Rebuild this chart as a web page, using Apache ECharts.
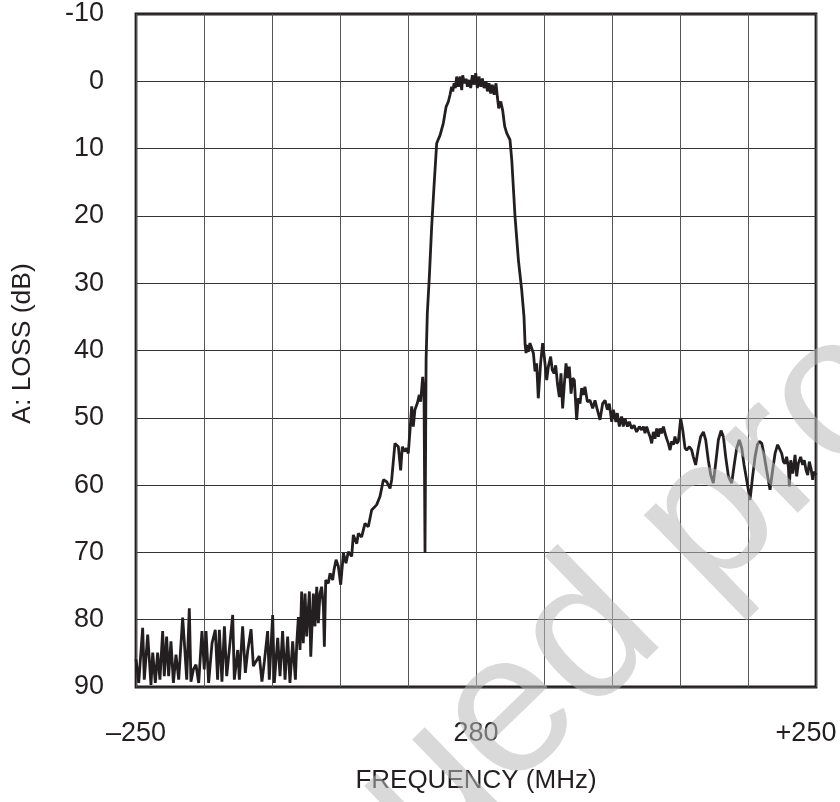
<!DOCTYPE html>
<html><head><meta charset="utf-8">
<script src="https://cdn.jsdelivr.net/npm/echarts@6/dist/echarts.min.js"></script>
<style>html,body{margin:0;padding:0;background:#fff}#c{width:840px;height:802px}</style>
</head><body><div id="c"></div>
<script>
// Frequency offset from 280 MHz centre (MHz)
const freqOffset = [
-250,-248,-245.1,-243.9,-241.4,-239,-237.7,-235.8,-234.1,-232.4,-230.4,-229.2,-227.5,-226,-224.3,-222.5,-220.6,-218.6,-215.7,-214.5,-212.7,-210.8,-209.6,-207.8,-205.9,-203.9,-201.5,-199.8,-198.5,-196.6,-194.1,-191.7,-190,-188.7,-186.8,-185,-183.3,-181.4,-178.9,-177.7,-175.2,-174,-171.6,-169.6,-167.9,-165.4,-163.7,-161.8,-159.3,-157.4,-155.6,-153.2,-152,-149.5,-148.3,-145.8,-144.1,-142.2,-140.4,-138.5,-136.8,-134.8,-132.8,
-131.8,-130.6,-129.4,-128.2,-127,-125.7,-124.5,-122.5,-121.5,-119.6,-118.4,-117.1,-115.9,-114.7,-113.5,-112.2,-111.5,-110.5,-108.6,-107.3,-105.4,-104.4,-102.9,-101.2,-99.5,
-97.5,-95.6,-93.9,-91.4,-90.2,-87.7,-86.5,-84.1,-81.6,-79.2,-76.7,-74.3,-73,-70.6,-68.1,-65.7,-63.2,-62,-59.6,-57.1,-55.4,-54.2,-52.2,-51,-49.8,-48.5,-47.3,-46.1,-44.9,-43.1,-41.7,-40.7,-39.2,-38.2,-37.5,
-36.7,-35.8,-34.3,-32.6,-30.9,-28.9,-26.4,-24,-22,-20.3,-19.1,-17.9,-17.1,-16.1,-15.2,-14.2,-13,-11.7,-10.5,-9.8,-8.5,-7.3,-6.3,-5.1,-3.9,-2.7,-1.4,-0.2,1,2.2,3.5,4.7,5.9,7.4,8.4,9.6,10.8,12,13.3,14.7,15.7,16.7,18.2,19.6,21.1,22.6,25,26.3,28.7,31.2,33.6,35.3,36.1,36.8,
37.3,38.5,39.7,40.9,42.2,43.4,44.6,45.8,47.5,49,50.2,52,53.2,54.9,56.1,57.4,58.6,60,61.3,62.5,63.7,65,66.2,67.4,68.6,69.9,71.1,72.3,74,75.2,76.5,77.7,78.9,80.1,81.9,83.8,85.8,87.5,89.2,91.2,93.1,94.9,96.6,98,99.8,101,102.9,103.9,105.4,107.1,108.3,109.6,111.3,112.7,114.5,116.2,118.1,120.1,
121.8,123.1,124.3,125.5,126.7,128,129.2,130.4,131.6,132.9,134.1,135.3,136.5,137.8,139,140.2,141.4,142.7,143.9,145.1,146.3,147.6,148.8,150.5,152,153.7,154.9,156.9,158.6,159.8,161.5,163.5,165.2,167.2,168.9,170.8,172.6,174.5,176.5,178.2,180.2,181.9,183.6,185.6,188,190,191.7,193.6,195.4,197.1,199,201.5,203.4,205.2,206.9,208.3,210.1,211.8,213.7,216.2,218.1,219.9,221.8,223,224.8,226,227.2,228.4,229.7,230.4,231.4,232.9,234.6,235.8,237,238.7,240.2,241.4,242.7,243.9,245.1,246.3,247.6,248.5,250
];
// Loss (dB)
const lossDb = [
85.9,89.4,81.2,88.9,82.2,89.7,84.9,89.4,84.9,88.9,81.7,88.4,82.5,88.4,83.2,89.4,85.2,88.9,79.7,83.2,88.9,78.3,89.2,87.4,86.7,89.4,81.7,87.4,81.7,89.4,83.5,81.5,88.9,81.5,89.2,81,88.4,84.5,79.3,88.9,84.5,88.9,81,87.9,84.7,81.4,86.9,86.2,85.4,89.2,86.2,81.7,88.9,79.3,89.4,82.7,88.4,81.7,88.9,82.5,89.4,83.2,88.9,
83.5,79.6,84.5,75.8,83.5,76.1,82.5,75.8,85.5,76.1,81,75.1,80.5,76.1,75.1,78.1,84,74.1,74.6,73.1,74.1,72.6,71.1,72.1,74.8,
70.1,71.6,69.9,70.6,67.4,68.7,67.2,67.7,65.7,66.2,63.7,63.2,62.9,61.7,59.2,59.5,60.5,59.2,53.8,54.3,57.8,54.3,55,54.5,55.3,51.8,48.3,51.3,48.8,47.8,46.6,47.6,43.9,46.9,70.1,
41.4,34.5,29,21.6,15.7,9.2,8,6.2,3.8,3,2,0.8,1.5,0.3,1,-0.7,0.8,-0.7,1.3,-0.9,0.3,-0.4,0.8,-0.2,1,-0.9,0.5,-1.2,1,-0.7,0.8,-0.4,1,0,1.5,0.3,1.8,0.5,2,0.3,2.3,4,3,4.3,6.7,7.7,8.7,11.7,20.1,26.6,31,35,39.1,40.4,
39.2,40.2,38.9,38.7,40.4,43.1,41.9,47.1,41.9,38.9,40.9,44.4,42.4,40.9,42.9,43.4,42.2,45.1,46.9,43.4,48.6,44.9,41.9,44.1,42.4,46.4,44.1,44.4,50.3,47.1,47.9,45.6,46.6,45.4,47.6,47.4,48.6,47.4,48.8,50.3,47.9,47.4,48.8,47.9,50.6,48.8,50.6,49.3,51.3,49.8,51.3,50.1,51.3,50.6,51.6,51.1,52.1,51.3,
51.8,51.3,52.3,51.3,52.1,52.8,53.8,52.1,53.1,51.6,52.8,51.6,52.3,51.3,52.3,53.1,53.8,54.8,53.5,54,52.8,53.8,53.5,50.1,51.8,54.5,54.8,54.3,54.8,55.8,57,54.5,52.8,52.1,53.3,56.3,58.5,59.7,56.3,53.3,51.9,52.8,55.8,58.7,59.7,56.8,54.5,53.3,54.5,57,59.2,62.2,58.7,55.8,54,53.5,53.8,55.5,57.8,60.7,57.8,55.3,54,53.8,55.3,56.5,56.8,55.8,57.3,60.2,56.3,58.3,55.5,58.7,56.8,55.8,57,56.3,57.8,58.5,56.5,57.5,59.2,58,58.5
];
const xTickText = { '-250': '–250', '0': '280', '250': '+250' };
const xTitle = 'FREQUENCY (MHz)';
const yTitle = 'A: LOSS (dB)';
const watermarkText = 'Discontinued product';

const INK = '#231f20';
const FONT = '"Liberation Sans", Arial, Helvetica, sans-serif';
const chart = echarts.init(document.getElementById('c'), null, { renderer: 'canvas' });
const seriesData = freqOffset.map((f, i) => [f, lossDb[i]]);

chart.setOption({
  animation: false,
  backgroundColor: '#fff',
  grid: { left: 136, top: 14, width: 680, height: 673, show: true, borderColor: INK, borderWidth: 2.8, backgroundColor: 'transparent' },
  xAxis: {
    type: 'value', min: -250, max: 250, interval: 50,
    axisLine: { show: false }, axisTick: { show: false },
    splitLine: { show: true, lineStyle: { color: '#555', width: 1 } },
    axisLabel: {
      margin: 33, fontSize: 27, color: INK, fontFamily: FONT,
      formatter: v => {
        const t = xTickText[String(v)];
        if (!t) return '';
        return v === 250 ? '{r|' + t + '}' : t;
      },
      rich: { r: { fontSize: 27, color: INK, fontFamily: FONT, padding: [0, 20, 0, 0] } }
    },
    name: xTitle, nameLocation: 'middle', nameGap: 81,
    nameTextStyle: { fontSize: 26, color: INK, fontFamily: FONT }
  },
  yAxis: {
    type: 'value', inverse: true, min: -10, max: 90, interval: 10,
    axisLine: { show: false }, axisTick: { show: false },
    splitLine: { show: true, lineStyle: { color: '#333', width: 1 } },
    axisLabel: { margin: 32, fontSize: 27, color: INK, fontFamily: FONT },
    name: yTitle, nameLocation: 'middle', nameGap: 100,
    nameTextStyle: { fontSize: 26.5, color: INK, fontFamily: FONT, padding: [0, 0, 0, 14] }
  },
  series: [{
    type: 'line', data: seriesData, showSymbol: false, symbol: 'none',
    lineStyle: { color: INK, width: 2.8 }, z: 3
  }],
  graphic: [{
    type: 'text', x: 474, y: 750, rotation: 0.77, z: 100, silent: true,
    style: { text: watermarkText, fontSize: 200, fontFamily: FONT, fill: 'rgba(185,185,185,0.55)', align: 'center', verticalAlign: 'middle',
      stroke: 'rgba(185,185,185,0.55)', lineWidth: 0 }
  }]
});
</script>
</body></html>
